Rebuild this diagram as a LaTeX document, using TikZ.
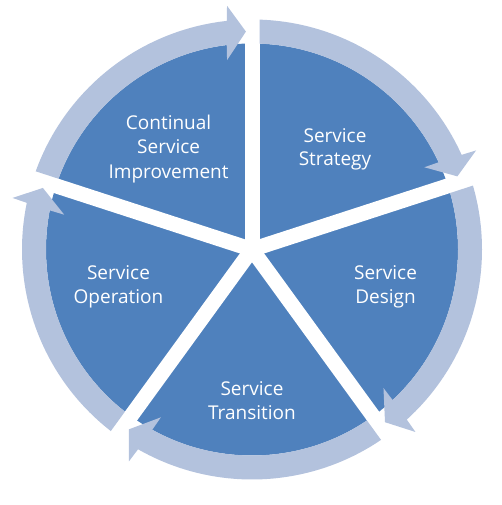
\documentclass[tikz,border=0pt]{standalone}
\usepackage{fontspec}
\setmainfont{Open Sans}
\definecolor{pieblue}{HTML}{4F81BD}
\definecolor{ringblue}{HTML}{B3C2DD}
\newcommand\ringarrow[2]{%
  \pgfmathsetmacro\aOut{#1-1.87}%
  \pgfmathsetmacro\aIn{#1-2.09}%
  \pgfmathsetmacro\bOut{#2+6.3}%
  \pgfmathsetmacro\bIn{#2+7.05}%
  \pgfmathsetmacro\tipA{#2+1.6}%
  \pgfmathsetmacro\barbOut{#2+5.85}%
  \pgfmathsetmacro\barbIn{#2+7.5}%
  \fill[ringblue] (\aOut:230) arc[start angle=\aOut,end angle=\bOut,radius=230]
    -- (\barbOut:245) -- (\tipA:218) -- (\barbIn:191) -- (\bIn:206)
    arc[start angle=\bIn,end angle=\aIn,radius=206] -- cycle;}
\begin{document}
\begin{tikzpicture}[x=1pt,y=1pt,
  lbl/.style={text=white,font=\fontsize{19}{24}\selectfont,anchor=base,inner sep=0pt},
  gapline/.style={white,line width=15pt}]
\useasboundingbox (0,0) rectangle (501,505);
\coordinate (C) at (252,255.5);
\begin{scope}[shift={(C)}]
  \fill[pieblue] (0,0) circle[radius=206];
  \foreach \g in {90,18,-54,-126,162}
    \draw[gapline] (0,0) -- (\g:240);
  \ringarrow{90}{18}
  \ringarrow{18}{-54}
  \ringarrow{-54}{-126}
  \ringarrow{234}{162}
  \ringarrow{162}{90}
\end{scope}
% Service Strategy
\node[lbl] (ss1) at (335,362.3) {Service};
\node[lbl] (ss2) at (335,339.3) {Strategy};
% Continual Service Improvement
\node[lbl] (csi1) at (168.6,375.7) {Continual};
\node[lbl] (csi2) at (168.6,351.7) {Service};
\node[lbl] (csi3) at (168.6,326.7) {Improvement};
% Service Design
\node[lbl] (sd1) at (385.5,225) {Service};
\node[lbl] (sd2) at (385.5,201) {Design};
% Service Operation
\node[lbl] (so1) at (118.5,225) {Service};
\node[lbl] (so2) at (118.5,201) {Operation};
% Service Transition
\node[lbl] (st1) at (252,109) {Service};
\node[lbl] (st2) at (252,85) {Transition};
\end{tikzpicture}
\end{document}
